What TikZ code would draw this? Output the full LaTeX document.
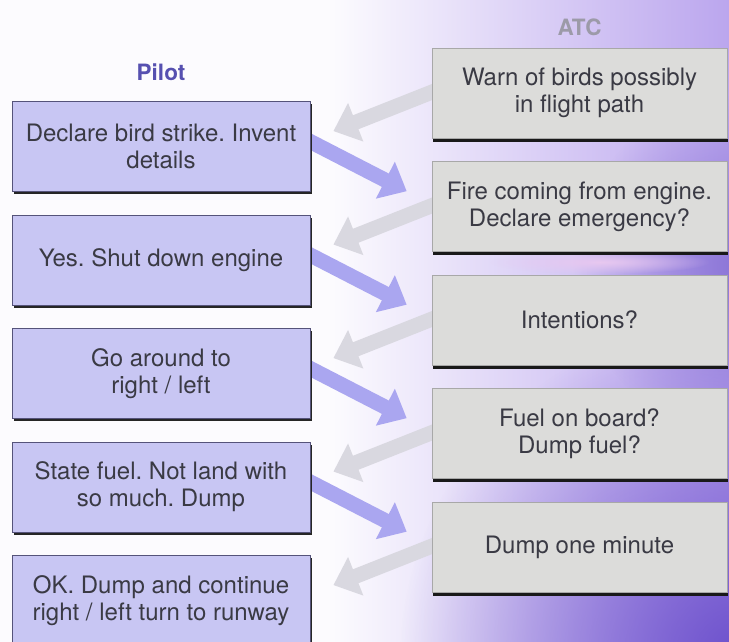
\documentclass[tikz,border=0pt]{standalone}
\usepackage{fontspec}
\setmainfont{TeX Gyre Heros}
\usepackage{tikz}
\usetikzlibrary{arrows.meta,positioning,shadows,fadings}
\definecolor{pilotfill}{HTML}{C8C6F3}
\definecolor{pilotline}{HTML}{55537A}
\definecolor{pilotlabel}{HTML}{5650B0}
\definecolor{atcfill}{HTML}{DCDCDA}
\definecolor{atcline}{HTML}{A8A8A8}
\definecolor{atclabel}{HTML}{9C9AA8}
\definecolor{textgrey}{HTML}{3A3A44}
\definecolor{replyblue}{HTML}{AAA6F0}
\definecolor{callgrey}{HTML}{D9D8E0}
\definecolor{haze}{HTML}{BBA6EE}
\definecolor{deep}{HTML}{6C50CC}
\definecolor{blush}{HTML}{E8C8F0}
\tikzfading[name=glow,inner color=transparent!0,outer color=transparent!100]
\pgfdeclarelayer{backdrop}
\pgfdeclarelayer{links}
\pgfsetlayers{backdrop,links,main}
\tikzset{
  box/.style={align=center,font=\fontsize{24}{27}\selectfont,text=textgrey,
              minimum height=90pt,inner sep=4pt},
  pilot/.style={box,fill=pilotfill,draw=pilotline,line width=0.8pt,minimum width=298pt,
              drop shadow={shadow xshift=1.5pt,shadow yshift=-2.5pt,fill=black!85,opacity=1}},
  atc/.style={box,fill=atcfill,draw=atcline,line width=0.6pt,minimum width=295pt,
              drop shadow={shadow xshift=1pt,shadow yshift=-3.5pt,fill=black!90,opacity=1}},
  head/.style={font=\bfseries\fontsize{22.5}{24}\selectfont,inner sep=0pt},
  reply/.style={line width=15pt,draw=replyblue,-{Triangle[length=24pt,width=40pt]}},
  call/.style={line width=15pt,draw=callgrey,-{Triangle[length=24pt,width=40pt]}},
}
\frenchspacing

\begin{document}
\begin{tikzpicture}[x=1pt,y=-1pt]
  \useasboundingbox (0,0) rectangle (729,642);
  % backdrop
  \begin{pgfonlayer}{backdrop}
    \fill[white!96!haze] (0,0) rectangle (729,642);
    \shade[left color=white!96!haze,middle color=haze!45,right color=haze] (330,0) rectangle (729,642);
    \begin{scope}
      \clip (0,0) rectangle (729,642);
      \fill[deep,path fading=glow] (740,660) circle (340);
      \fill[deep!80,path fading=glow] (745,265) circle (170);
      \fill[blush,path fading=glow] (600,262) ellipse (110 and 12);
    \end{scope}
  \end{pgfonlayer}

  % ATC side
  \node[atc] (a1) at (579.5,93)    {Warn of birds possibly\\in flight path};
  \node[atc] (a2) at (579.5,206.5) {Fire coming from engine.\\Declare emergency?};
  \node[atc] (a3) at (579.5,320)   {Intentions?};
  \node[atc] (a4) at (579.5,433.5) {Fuel on board?\\Dump fuel?};
  \node[atc] (a5) at (579.5,547)   {Dump one minute};
  \node[head,text=atclabel,above=12pt of a1] (atc) {ATC};

  % pilot side
  \node[pilot] (p1) at (161,146.5) {Declare bird strike. Invent\\details};
  \node[pilot] (p2) at (161,260)   {Yes. Shut down engine};
  \node[pilot] (p3) at (161,373.5) {Go around to\\right / left};
  \node[pilot] (p4) at (161,487)   {State fuel. Not land with\\so much. Dump};
  \node[pilot] (p5) at (161,600.5) {OK. Dump and continue\\right / left turn to runway};
  \node[head,text=pilotlabel,above=20pt of p1] (pilot) {Pilot};

  % exchanges
  \begin{pgfonlayer}{links}
    \foreach \k in {1,...,5}
      \draw[call] ([xshift=8pt,yshift=4pt]a\k.west) -- ([xshift=23pt,yshift=-30pt]p\k.north east);
    \foreach \k/\n in {1/2,2/3,3/4,4/5}
      \draw[reply] ([xshift=-6pt,yshift=8pt]p\k.east) -- ([xshift=-25pt,yshift=-30pt]a\n.north west);
  \end{pgfonlayer}
\end{tikzpicture}
\end{document}
